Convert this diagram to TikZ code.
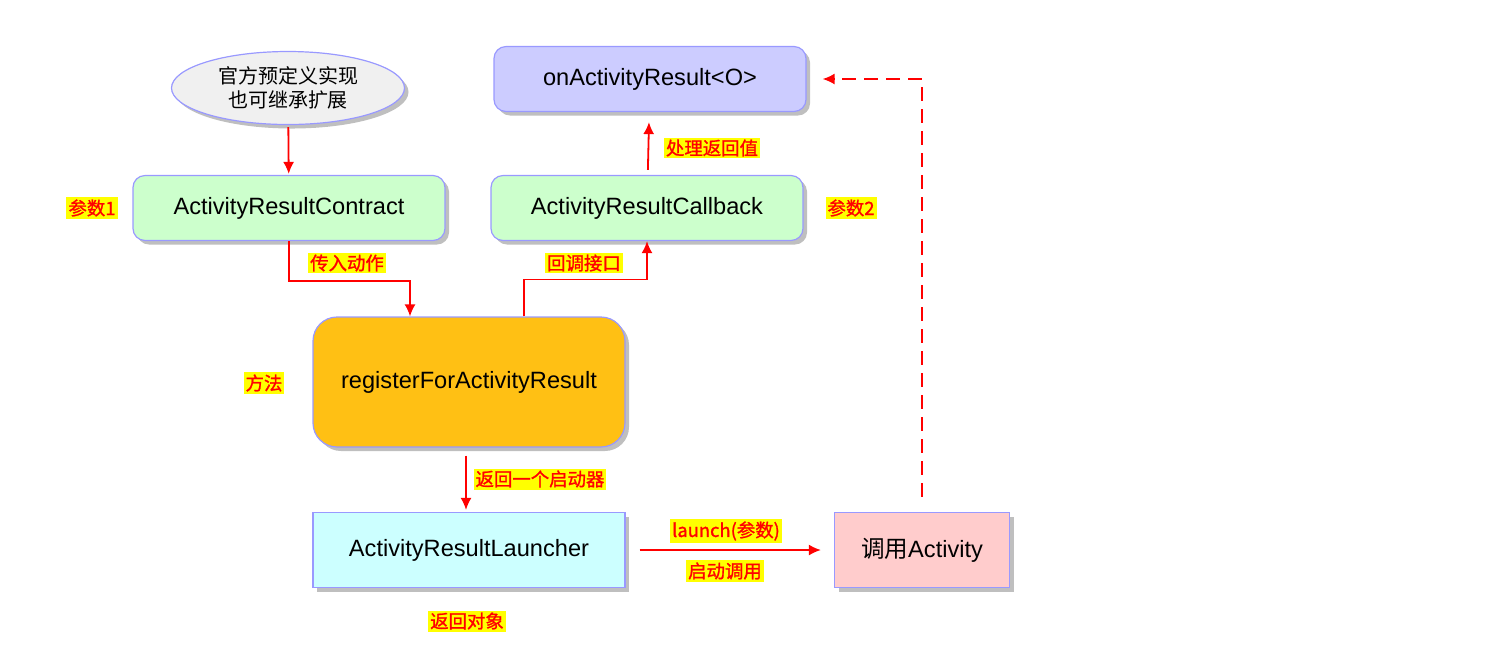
\documentclass[tikz,border=0pt]{standalone}
\usepackage{fontspec}
\setmainfont{Liberation Sans}
\newfontfamily\cjk{Noto Sans CJK SC}
\newfontfamily\cjkmark[FakeBold=1.2]{Noto Sans CJK SC}
\usetikzlibrary{shapes.geometric}
\usetikzlibrary{shadows}
\usetikzlibrary{arrows.meta}
\definecolor{rim}{HTML}{9999FF}
\definecolor{marker}{HTML}{FFFF00}
\definecolor{arrowred}{HTML}{FF0000}
\tikzstyle{shade}=[drop shadow={shadow xshift=2pt, shadow yshift=-2pt, opacity=0.25, fill=black}]
\tikzstyle{box}=[draw=rim, line width=0.6pt, rounded corners=6pt, shade, minimum width=156pt, minimum height=32.5pt, font=\fontsize{11.8}{14}\selectfont]
\tikzstyle{bigbox}=[box, rounded corners=12pt, minimum height=65pt]
\tikzstyle{flatbox}=[box, sharp corners, minimum height=37.5pt]
\tikzstyle{cloud}=[draw=rim, line width=0.6pt, ellipse, shade, fill={rgb,255:red,240;green,240;blue,240}, minimum width=116.5pt, minimum height=36.5pt, inner sep=0pt, align=center, font=\cjk\fontsize{10}{12}\selectfont]
\tikzstyle{note}=[fill=marker, text=arrowred, inner sep=1pt, font=\cjkmark\fontsize{9.2}{11}\selectfont]
\tikzstyle{flow}=[draw=arrowred, line width=0.9pt, -{Latex[length=6pt, width=5.5pt]}]

\begin{document}
\begin{tikzpicture}[x=0.5pt, y=-0.5pt]
    \useasboundingbox (0, 0) rectangle (1490, 661);
    % boxes
    \node[cloud]                                   (impl) at (288, 88) {官方预定义实现\\也可继承扩展};
    \node[box, fill={rgb,255:red,204;green,204;blue,255}] (onresult) at (650, 79) {onActivityResult<O>};
    \node[box, fill={rgb,255:red,204;green,255;blue,204}] (contract) at (289, 208) {ActivityResultContract};
    \node[box, fill={rgb,255:red,204;green,255;blue,204}] (callback) at (647, 208) {ActivityResultCallback};
    \node[bigbox, fill={rgb,255:red,255;green,192;blue,20}] (register) at (469, 382) {registerForActivityResult};
    \node[flatbox, fill={rgb,255:red,204;green,255;blue,255}] (launcher) at (469, 550) {ActivityResultLauncher};
    \node[flatbox, fill={rgb,255:red,255;green,204;blue,204}, minimum width=87.5pt] (activity) at (922, 550) {{\cjk 调用}Activity};
    % notes
    \node[note] (param1) at (92, 208) {参数1};
    \node[note] (param2) at (851, 208) {参数2};
    \node[note] (method) at (264, 383) {方法};
    \node[note] (handle) at (712, 148) {处理返回值};
    \node[note] (pass) at (347, 263) {传入动作};
    \node[note] (iface) at (584, 263) {回调接口};
    \node[note] (ret) at (540, 479) {返回一个启动器};
    \node[note] (launch) at (726, 531) {launch(参数)};
    \node[note] (start) at (725, 571) {启动调用};
    \node[note] (obj) at (467, 621) {返回对象};
    % connectors
    \draw[flow, shorten <=1pt, shorten >=0.5pt] (impl) -- (contract);
    \draw[flow] (contract.south) -- ++(0, 40) -| ([xshift=-29.5pt]register.north);
    \draw[flow] ([xshift=27.5pt]register.north) -- ++(0, -37) -| (callback.south);
    \draw[flow, shorten <=2.5pt, shorten >=5pt] (callback) -- (onresult);
    \draw[flow, shorten <=4pt, shorten >=1pt] ([xshift=-1.5pt]register.south) -- ([xshift=-1.5pt]launcher.north);
    \draw[flow, shorten <=7pt, shorten >=6.5pt] (launcher) -- (activity);
    \draw[flow, dash pattern=on 7pt off 4pt, shorten <=7.5pt, shorten >=8pt] (activity.north) |- (onresult.east);
\end{tikzpicture}
\end{document}
